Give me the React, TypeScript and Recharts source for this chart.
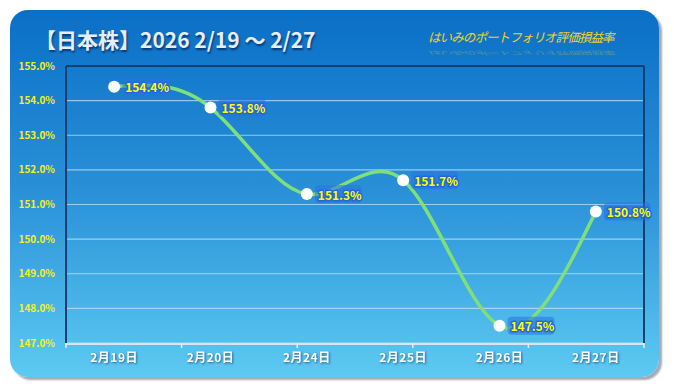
import React from 'react';
import { LineChart, Line, XAxis, YAxis, CartesianGrid, LabelList } from 'recharts';

const categories = ['2月19日', '2月20日', '2月24日', '2月25日', '2月26日', '2月27日'];
const values = [154.4, 153.8, 151.3, 151.7, 147.5, 150.8];
const yTicks = [147, 148, 149, 150, 151, 152, 153, 154, 155];
const edgeTicks = [0, 1, 2, 3, 4, 5, 6];
const title = '【日本株】2026 2/19 ～ 2/27';
const subtitle = 'はいみのポートフォリオ評価損益率';

const data = categories.map((c, i) => ({ name: c, value: values[i] }));

const FONT = '"Noto Sans CJK JP", "Noto Sans", sans-serif';

const renderLabel = (props: any) => {
  const { x, y, value } = props;
  return (
    <g>
      <rect x={x + 8} y={y - 9} width={47} height={18} rx={4} fill="#2a72df" opacity={0.55} />
      <text
        x={x + 11}
        y={y}
        dominantBaseline="central"
        fill="#ffff00"
        stroke="#2368d8"
        strokeWidth={3}
        strokeLinejoin="round"
        paintOrder="stroke"
        fontSize={12}
        fontWeight="bold"
        fontFamily={FONT}
      >
        {Number(value).toFixed(1)}%
      </text>
    </g>
  );
};

const XTick = (props: any) => {
  const { x, y, payload } = props;
  return (
    <text
      x={x}
      y={y}
      dy="0.71em"
      textAnchor="middle"
      fill="#ffffff"
      fontSize={12}
      fontWeight="bold"
      letterSpacing={0.5}
      fontFamily={FONT}
      style={{ filter: 'drop-shadow(1px 1px 1px rgba(0,40,90,0.6))' }}
    >
      {payload.value}
    </text>
  );
};

const EmptyTick = () => <g />;

export default function App() {
  return (
    <div style={{ position: 'absolute', left: 0, top: 0, width: 674, height: 392, background: '#ffffff', overflow: 'hidden' }}>
      <div
        style={{
          position: 'absolute',
          left: 10,
          top: 10,
          width: 649,
          height: 367,
          borderRadius: 18,
          background: 'linear-gradient(to bottom, #0a6fc6 0%, #2a91d8 50%, #5dcaf2 100%)',
          boxShadow: '3px 3px 2px rgba(90,100,115,0.55)',
        }}
      />
      <div
        style={{
          position: 'absolute',
          left: 35,
          top: 24,
          fontFamily: FONT,
          fontWeight: 'bold',
          fontSize: 21,
          color: '#e6eef8',
          whiteSpace: 'nowrap',
          textShadow: '1px 2px 2px rgba(0,30,80,0.7)',
          lineHeight: '30px',
        }}
      >
        {title}
      </div>
      <div
        style={{
          position: 'absolute',
          left: 428,
          top: 30,
          fontFamily: FONT,
          fontStyle: 'italic',
          fontSize: 12.5,
          color: '#f2d21c',
          whiteSpace: 'nowrap',
          lineHeight: '14px',
          letterSpacing: -0.9,
        }}
      >
        {subtitle}
      </div>
      <div
        style={{
          position: 'absolute',
          left: 428,
          top: 56,
          fontFamily: FONT,
          fontStyle: 'italic',
          fontSize: 12.5,
          color: '#f2d21c',
          whiteSpace: 'nowrap',
          lineHeight: '14px',
          letterSpacing: -0.9,
          transform: 'scaleY(-0.4)',
          transformOrigin: 'top',
          opacity: 0.3,
        }}
      >
        {subtitle}
      </div>
      <div style={{ position: 'absolute', left: 0, top: 0 }}>
        <LineChart
          width={674}
          height={392}
          data={data}
          margin={{ top: 65, right: 29, bottom: 19, left: 0 }}
        >
          <CartesianGrid vertical={false} stroke="rgba(200,230,255,0.7)" strokeWidth={1.2} xAxisId="cat" yAxisId="l" />
          <XAxis
            dataKey="name"
            xAxisId="cat"
            scale="band"
            height={29}
            tick={<XTick />}
            tickLine={false}
            axisLine={{ stroke: '#d8e4ee', strokeWidth: 2 }}
            tickSize={4}
            tickMargin={5}
            interval={0}
          />
          <XAxis
            xAxisId="aEdges"
            type="number"
            domain={[0, 6]}
            ticks={edgeTicks}
            tick={<EmptyTick />}
            tickLine={{ stroke: '#e4ecf2', strokeWidth: 1.5 }}
            tickSize={5}
            axisLine={false}
            height={1}
            allowDataOverflow
            interval={0}
          />
          <XAxis
            xAxisId="top"
            orientation="top"
            dataKey="name"
            scale="band"
            tick={false}
            tickLine={false}
            axisLine={{ stroke: '#0d3f70', strokeWidth: 2 }}
            height={1}
          />
          <YAxis
            yAxisId="l"
            domain={[147, 155]}
            ticks={yTicks}
            width={66}
            tickLine={false}
            tickSize={0}
            tickMargin={11}
            axisLine={{ stroke: '#0d3f70', strokeWidth: 2 }}
            tick={{ fill: '#f4f40a', fontSize: 10, fontWeight: 'bold', fontFamily: FONT }}
            tickFormatter={(v: number) => v.toFixed(1) + '%'}
            interval={0}
          />
          <YAxis
            yAxisId="r"
            orientation="right"
            domain={[147, 155]}
            allowDataOverflow
            width={1}
            tick={false}
            tickLine={false}
            axisLine={{ stroke: '#0d3f70', strokeWidth: 2 }}
          />
          <Line
            xAxisId="cat"
            yAxisId="l"
            type="natural"
            dataKey="value"
            stroke="#7fe07a"
            strokeWidth={3.5}
            isAnimationActive={false}
            dot={{ r: 6, fill: '#ffffff', stroke: 'none' }}
            activeDot={false}
          />
          <Line
            xAxisId="top"
            yAxisId="r"
            type="natural"
            dataKey="value"
            stroke="none"
            isAnimationActive={false}
            dot={false}
            activeDot={false}
          >
            <LabelList dataKey="value" content={renderLabel} />
          </Line>
        </LineChart>
      </div>
    </div>
  );
}
